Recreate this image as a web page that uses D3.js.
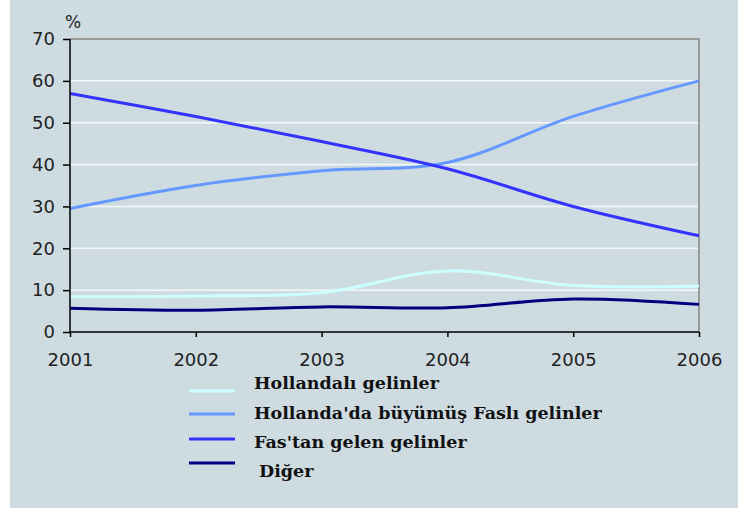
<!DOCTYPE html>
<html>
<head>
<meta charset="utf-8">
<script src="https://cdn.jsdelivr.net/npm/d3@7"></script>
<style>
  body { margin: 0; background: #fff; }
  svg { display: block; }
</style>
</head>
<body>
<div id="chart"></div>
<script>
// veriler
const years = [2001, 2002, 2003, 2004, 2005, 2006];
const hollandali = [8.4, 8.6, 9.4, 14.6, 11.1, 11.0];
const hollandadaBuyumus = [29.5, 35.0, 38.5, 40.5, 51.5, 60.0];
const fastanGelen = [57.0, 51.5, 45.5, 39.0, 30.0, 23.0];
const diger = [5.7, 5.2, 6.0, 5.8, 7.9, 6.6];
const seriesNames = ['Hollandalı gelinler', "Hollanda'da büyümüş Faslı gelinler", "Fas'tan gelen gelinler", 'Diğer'];
const yTicks = [0, 10, 20, 30, 40, 50, 60, 70];

const series = [
    { name: seriesNames[0], values: hollandali, color: '#ccffff' },
    { name: seriesNames[1], values: hollandadaBuyumus, color: '#6699ff' },
    { name: seriesNames[2], values: fastanGelen, color: '#3333ff' },
    { name: seriesNames[3], values: diger, color: '#000080' }
];

const width = 738, height = 508;
const margin = { top: 39, right: 39, bottom: 176, left: 70 };

const svg = d3.select('#chart')
    .append('svg')
    .attr('width', width)
    .attr('height', height);

svg.append('rect')
    .attr('x', 10).attr('y', 0)
    .attr('width', width - 10).attr('height', height)
    .attr('fill', '#cedce1');

const x = d3.scaleLinear()
    .domain([2001, 2006])
    .range([margin.left, width - margin.right]);

const y = d3.scaleLinear()
    .domain([0, 70])
    .range([height - margin.bottom, margin.top]);

// grid
svg.selectAll('.grid')
    .data(yTicks.filter(t => t > 0 && t < 70))
    .enter()
    .append('line')
    .attr('x1', x(2001)).attr('x2', x(2006))
    .attr('y1', d => y(d)).attr('y2', d => y(d))
    .attr('stroke', '#f4f7f8')
    .attr('stroke-width', 1.5);

// üst ve sağ çerçeve
svg.append('path')
    .attr('d', `M${x(2001)},${y(70)}H${x(2006)}V${y(0)}`)
    .attr('fill', 'none')
    .attr('stroke', '#999')
    .attr('stroke-width', 2);

const line = d3.line()
    .x((d, i) => x(years[i]))
    .y(d => y(d))
    .curve(d3.curveCatmullRom.alpha(0.5));

svg.selectAll('.series')
    .data(series)
    .enter()
    .append('path')
    .attr('d', d => line(d.values))
    .attr('fill', 'none')
    .attr('stroke', d => d.color)
    .attr('stroke-width', 3);

// eksenler
const yAxis = svg.append('g')
    .attr('transform', `translate(${x(2001)},0)`)
    .call(d3.axisLeft(y).tickValues(yTicks).tickSize(7).tickPadding(8));

const xAxis = svg.append('g')
    .attr('transform', `translate(0,${y(0)})`)
    .call(d3.axisBottom(x).tickValues(years).tickFormat(d3.format('d')).tickSize(5).tickPadding(16));

[yAxis, xAxis].forEach(g => {
    g.select('.domain').attr('stroke', '#000').attr('stroke-width', 1.5);
    g.selectAll('.tick line').attr('stroke', '#000').attr('stroke-width', 1.5);
    g.selectAll('text')
        .attr('fill', '#222')
        .style('font-family', '"DejaVu Sans", sans-serif')
        .style('font-size', '18px');
});
xAxis.select('.domain').attr('d', `M${x(2001)},0H${x(2006)}`);
yAxis.select('.domain').attr('d', `M0,${y(0)}V${y(70)}`);

svg.append('text')
    .attr('x', 65)
    .attr('y', 28)
    .style('font-family', '"DejaVu Sans", sans-serif')
    .style('font-size', '17px')
    .attr('fill', '#222')
    .text('%');

// lejant
const legend = svg.append('g');
const legendLineY = [391, 414, 439, 463];
const legendTextY = [389, 419, 448, 477];
series.forEach((s, i) => {
    legend.append('line')
        .attr('x1', 189).attr('x2', 235)
        .attr('y1', legendLineY[i]).attr('y2', legendLineY[i])
        .attr('stroke', s.color)
        .attr('stroke-width', 3);
    legend.append('text')
        .attr('x', i === 3 ? 259 : 254)
        .attr('y', legendTextY[i])
        .style('font-family', '"DejaVu Serif", serif')
        .style('font-weight', 'bold')
        .style('font-size', '17.5px')
        .attr('fill', '#111')
        .text(s.name);
});
</script>
</body>
</html>
